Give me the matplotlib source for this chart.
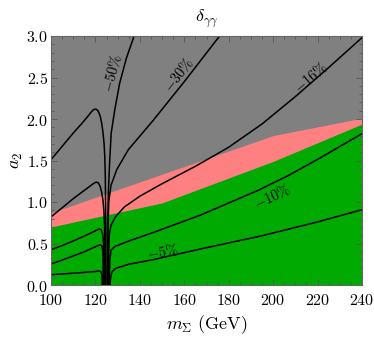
import matplotlib
matplotlib.use("Agg")
import matplotlib.pyplot as plt
from matplotlib.ticker import MultipleLocator, FormatStrFormatter

plt.rcParams['mathtext.fontset'] = 'cm'
plt.rcParams['font.family'] = ['DejaVu Serif']

# ---- region boundaries (m_Sigma nodes) ----
region_m = [100, 150, 200, 240]
green_top = [0.70, 0.99, 1.49, 1.94]
pink_top = [0.87, 1.335, 1.80, 2.01]

# ---- contour lines right of the resonance ----
c50_m = [137.4, 133.9, 130.9, 128.7, 127.1, 126.4, 125.8, 125.4, 125.3]
c50_a = [3.00, 2.73, 2.43, 2.11, 1.83, 1.49, 1.10, 0.60, 0.00]

c30_m = [175.9, 160.0, 145.9, 134.8, 129.6, 127.0, 126.0, 125.7, 125.6]
c30_a = [3.00, 2.45, 1.98, 1.63, 1.39, 1.20, 1.00, 0.70, 0.00]

c16_m = [240.4, 225.0, 210.0, 195.0, 180.0, 165.0, 150.0, 140.0, 133.0, 129.0, 127.0, 126.2, 126.0, 125.9]
c16_a = [2.99, 2.62, 2.27, 1.94, 1.66, 1.43, 1.22, 1.07, 0.94, 0.82, 0.72, 0.60, 0.40, 0.00]

c10_m = [240.4, 221.1, 206.2, 193.2, 167.1, 147.3, 135.6, 128.8, 127.0, 126.5, 126.3, 126.2]
c10_a = [1.83, 1.53, 1.31, 1.14, 0.84, 0.645, 0.535, 0.465, 0.42, 0.30, 0.15, 0.00]

c05_m = [240.4, 220.0, 194.5, 170.0, 145.9, 135.0, 129.0, 127.5, 126.9, 126.7, 126.6]
c05_a = [0.91, 0.76, 0.59, 0.45, 0.305, 0.25, 0.20, 0.16, 0.10, 0.05, 0.00]

# ---- contour lines left of the resonance ----
l1_m = [100, 105, 110, 114, 116.5, 118, 119, 120, 120.8, 121.5, 122.2, 122.8, 123.4, 123.9, 124.2, 124.45, 124.6, 124.67]
l1_a = [1.51, 1.67, 1.83, 1.95, 2.03, 2.08, 2.11, 2.12, 2.11, 2.08, 2.03, 1.95, 1.84, 1.70, 1.55, 1.30, 0.90, 0.00]

l2_m = [100, 105, 110, 115, 117.5, 119, 120.3, 121.3, 122.1, 122.8, 123.4, 123.8, 124.1, 124.25, 124.3]
l2_a = [0.82, 0.93, 1.04, 1.14, 1.19, 1.22, 1.24, 1.23, 1.19, 1.12, 1.02, 0.90, 0.72, 0.45, 0.00]

l3_m = [100, 105, 110, 115, 119, 120.8, 121.8, 122.6, 123.2, 123.6, 123.85, 123.9]
l3_a = [0.425, 0.475, 0.53, 0.59, 0.64, 0.665, 0.675, 0.665, 0.62, 0.53, 0.35, 0.00]

l4_m = [100, 105, 110, 115, 119, 121.2, 122.2, 122.9, 123.3, 123.45, 123.5]
l4_a = [0.253, 0.30, 0.35, 0.40, 0.45, 0.475, 0.485, 0.47, 0.41, 0.30, 0.00]

l5_m = [100, 105, 110, 115, 120, 121.5, 122.3, 122.8, 123.0, 123.05]
l5_a = [0.124, 0.133, 0.142, 0.152, 0.163, 0.168, 0.165, 0.14, 0.08, 0.00]

# ---- labels ----
label_text = [r'$\mathrm{-50\%}$', r'$\mathrm{-30\%}$', r'$\mathrm{-16\%}$', r'$\mathrm{-10\%}$', r'$\mathrm{-5\%}$']
label_m = [127.5, 157.6, 217.0, 199.5, 150.4]
label_a = [2.55, 2.53, 2.50, 1.07, 0.40]
label_rot = [75, 52, 40, 25, 8]

fig = plt.figure(figsize=(3.74, 3.39), dpi=100)
ax = fig.add_axes([51/374, 54/339, 311/374, 249/339])
ax.set_facecolor('#808080')

ax.fill_between(region_m, 0, green_top, color='#00aa00', lw=0)
ax.fill_between(region_m, green_top, pink_top, color='#ff8080', lw=0)

lines = [(c50_m, c50_a), (c30_m, c30_a), (c16_m, c16_a), (c10_m, c10_a), (c05_m, c05_a),
         (l1_m, l1_a), (l2_m, l2_a), (l3_m, l3_a), (l4_m, l4_a), (l5_m, l5_a)]
for xm, ya in lines:
    ax.plot(xm, ya, color='black', lw=1.1, solid_joinstyle='round')

for t, xm, ya, r in zip(label_text, label_m, label_a, label_rot):
    ax.text(xm, ya, t, rotation=r, ha='center', va='center', fontsize=10.5,
            color='black', rotation_mode='anchor')

ax.set_xlim(100, 240)
ax.set_ylim(0, 3)
ax.xaxis.set_major_locator(MultipleLocator(20))
ax.xaxis.set_minor_locator(MultipleLocator(5))
ax.yaxis.set_major_locator(MultipleLocator(0.5))
ax.yaxis.set_minor_locator(MultipleLocator(0.1))
ax.xaxis.set_major_formatter(FormatStrFormatter(r'$%d$'))
ax.yaxis.set_major_formatter(FormatStrFormatter(r'$%.1f$'))
ax.tick_params(which='both', direction='in', top=True, right=True, color='#555555',
               labelsize=11.5, width=0.6)
ax.tick_params(which='major', length=4)
ax.tick_params(which='minor', length=2)
ax.tick_params(axis='x', pad=5)
ax.tick_params(axis='y', pad=2)
for s in ax.spines.values():
    s.set_color('#666666')
    s.set_linewidth(0.8)

ax.set_xlabel(r'$m_{\Sigma}\ (\mathrm{GeV})$', fontsize=13, labelpad=3)
ax.set_ylabel(r'$a_2$', fontsize=13, labelpad=1)
ax.set_title(r'$\delta_{\gamma\gamma}$', fontsize=13, pad=10)

fig.savefig('out.png', dpi=100)
